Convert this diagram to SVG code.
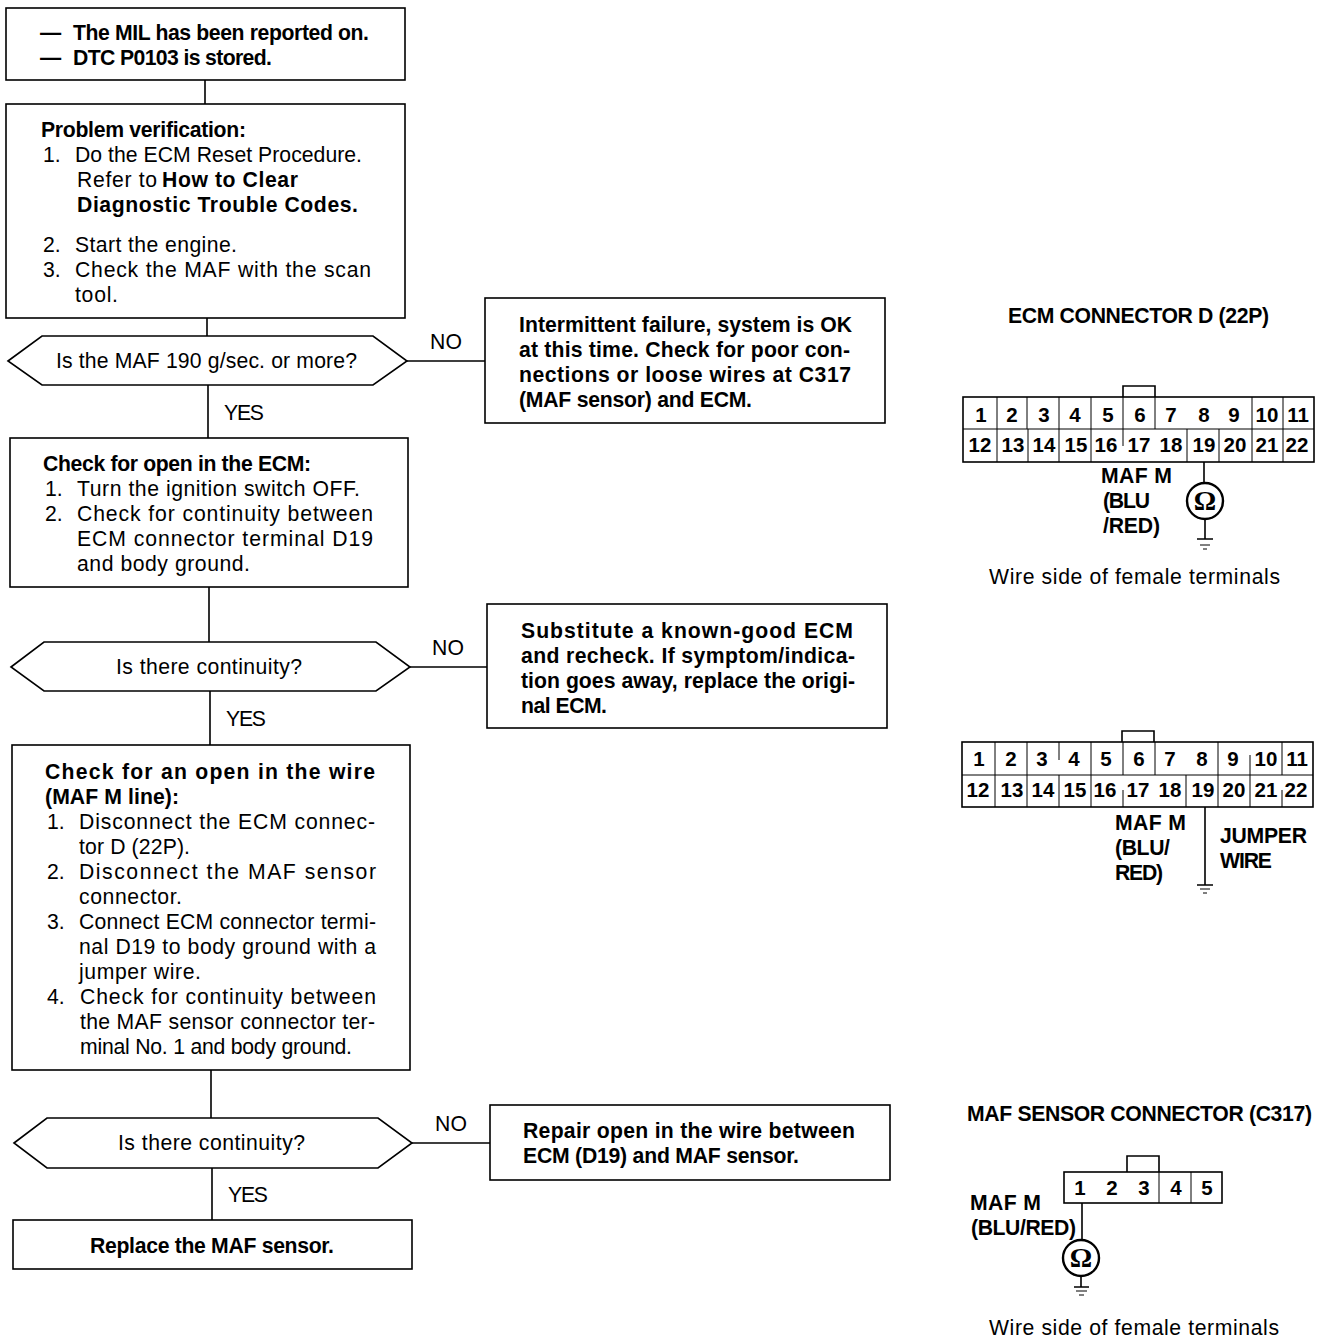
<svg xmlns="http://www.w3.org/2000/svg" width="1328" height="1344" viewBox="0 0 1328 1344">
<style>
text{font-family:"Liberation Sans",Arial,sans-serif;font-size:21.2px;fill:#000;transform:translateY(-0.7px)}
.b{font-weight:700}
.n{font-weight:700;text-anchor:middle;font-size:20.5px}
.s{fill:#fff;stroke:#000;stroke-width:1.6}
.l{fill:none;stroke:#000;stroke-width:1.6}
.d{fill:none;stroke:#000;stroke-width:1}
.o{fill:#fff;stroke:#000;stroke-width:2.4}
.om{font-family:"Liberation Serif",serif;font-weight:700;font-size:28px;text-anchor:middle}
</style>
<rect width="1328" height="1344" fill="#fff"/>
<g id="connectors" class="l">
<path d="M205 80V104M207 318V336M208 385V438M209 587V642M210 691V745M211 1070V1118M212 1168V1220M407 361H485M410 667H487M412 1143H490"/>
</g>
<g id="n-start"><rect class="s" x="6" y="8" width="399" height="72"/>
<text class="b" x="40" y="41" textLength="20">—</text><text class="b" x="73" y="41" textLength="296">The MIL has been reported on.</text>
<text class="b" x="40" y="66" textLength="20">—</text><text class="b" x="73" y="66" textLength="199">DTC P0103 is stored.</text></g>
<g id="n-verify"><rect class="s" x="6" y="104" width="399" height="214"/>
<text class="b" x="41" y="138" textLength="205">Problem verification:</text>
<text x="43" y="163">1.</text><text x="75" y="163" textLength="287">Do the ECM Reset Procedure.</text>
<text x="77" y="188" textLength="80">Refer to</text><text class="b" x="162" y="188" textLength="136">How to Clear</text>
<text class="b" x="77" y="213" textLength="281">Diagnostic Trouble Codes.</text>
<text x="43" y="253">2.</text><text x="75" y="253" textLength="162">Start the engine.</text>
<text x="43" y="278">3.</text><text x="75" y="278" textLength="296">Check the MAF with the scan</text>
<text x="75" y="303" textLength="43">tool.</text></g>
<g id="n-q1"><polygon class="s" points="8,361 42,336 373,336 407,361 373,385 42,385"/>
<text x="56" y="369" textLength="301">Is the MAF 190 g/sec. or more?</text>
<text x="430" y="350" textLength="32">NO</text><text x="224" y="421" textLength="40">YES</text></g>
<g id="n-intermittent"><rect class="s" x="485" y="298" width="400" height="125"/>
<text class="b" x="519" y="333" textLength="333">Intermittent failure, system is OK</text>
<text class="b" x="519" y="358" textLength="331">at this time. Check for poor con-</text>
<text class="b" x="519" y="383" textLength="332">nections or loose wires at C317</text>
<text class="b" x="519" y="408" textLength="233">(MAF sensor) and ECM.</text></g>
<g id="n-ecm-open"><rect class="s" x="10" y="438" width="398" height="149"/>
<text class="b" x="43" y="472" textLength="268">Check for open in the ECM:</text>
<text x="45" y="497">1.</text><text x="77" y="497" textLength="283">Turn the ignition switch OFF.</text>
<text x="45" y="522">2.</text><text x="77" y="522" textLength="296">Check for continuity between</text>
<text x="77" y="547" textLength="296">ECM connector terminal D19</text>
<text x="77" y="572" textLength="173">and body ground.</text></g>
<g id="n-q2"><polygon class="s" points="11,667 44,642 376,642 410,667 376,691 44,691"/>
<text x="116" y="675" textLength="186">Is there continuity?</text>
<text x="432" y="656" textLength="32">NO</text><text x="226" y="727" textLength="40">YES</text></g>
<g id="n-substitute"><rect class="s" x="487" y="604" width="400" height="124"/>
<text class="b" x="521" y="639" textLength="332">Substitute a known-good ECM</text>
<text class="b" x="521" y="664" textLength="334">and recheck. If symptom/indica-</text>
<text class="b" x="521" y="689" textLength="334">tion goes away, replace the origi-</text>
<text class="b" x="521" y="714" textLength="86">nal ECM.</text></g>
<g id="n-wire-open"><rect class="s" x="12" y="745" width="398" height="325"/>
<text class="b" x="45" y="780" textLength="330">Check for an open in the wire</text>
<text class="b" x="45" y="805" textLength="134">(MAF M line):</text>
<text x="47" y="830">1.</text><text x="79" y="830" textLength="296">Disconnect the ECM connec-</text>
<text x="79" y="855" textLength="111">tor D (22P).</text>
<text x="47" y="880">2.</text><text x="79" y="880" textLength="297">Disconnect the MAF sensor</text>
<text x="79" y="905" textLength="103">connector.</text>
<text x="47" y="930">3.</text><text x="79" y="930" textLength="297">Connect ECM connector termi-</text>
<text x="79" y="955" textLength="297">nal D19 to body ground with a</text>
<text x="79" y="980" textLength="122">jumper wire.</text>
<text x="47" y="1005">4.</text><text x="80" y="1005" textLength="296">Check for continuity between</text>
<text x="80" y="1030" textLength="295">the MAF sensor connector ter-</text>
<text x="80" y="1055" textLength="272">minal No. 1 and body ground.</text></g>
<g id="n-q3"><polygon class="s" points="14,1143 47,1118 378,1118 412,1143 378,1168 47,1168"/>
<text x="118" y="1151" textLength="187">Is there continuity?</text>
<text x="435" y="1132" textLength="32">NO</text><text x="228" y="1203" textLength="40">YES</text></g>
<g id="n-repair"><rect class="s" x="490" y="1105" width="400" height="75"/>
<text class="b" x="523" y="1139" textLength="332">Repair open in the wire between</text>
<text class="b" x="523" y="1164" textLength="276">ECM (D19) and MAF sensor.</text></g>
<g id="n-replace"><rect class="s" x="13" y="1220" width="399" height="49"/>
<text class="b" x="90" y="1254" textLength="244">Replace the MAF sensor.</text></g>
<g id="ecm-connector-1">
<text class="b" x="1008" y="324" textLength="261">ECM CONNECTOR D (22P)</text>
<path class="l" d="M1123 397V386H1155V397"/>
<rect class="l" x="963" y="397" width="351" height="65"/>
<path class="d" d="M963 429H1314M997 397V429M1027 397V429M1059 397V429M1091 397V429M1123 397V429M1155 397V429M1252 397V429M1283 397V429M997 429V462M1028 429V462M1059 429V462M1091 429V462M1123 429V446M1187 429V462M1219 429V462M1252 429V462M1283 429V462"/>
<text class="n" x="981" y="423">1</text><text class="n" x="1012" y="423">2</text><text class="n" x="1044" y="423">3</text><text class="n" x="1075" y="423">4</text><text class="n" x="1108" y="423">5</text><text class="n" x="1140" y="423">6</text><text class="n" x="1171" y="423">7</text><text class="n" x="1204" y="423">8</text><text class="n" x="1234" y="423">9</text><text class="n" x="1267" y="423">10</text><text class="n" x="1298" y="423">11</text>
<text class="n" x="980" y="453">12</text><text class="n" x="1013" y="453">13</text><text class="n" x="1044" y="453">14</text><text class="n" x="1076" y="453">15</text><text class="n" x="1106" y="453">16</text><text class="n" x="1139" y="453">17</text><text class="n" x="1171" y="453">18</text><text class="n" x="1204" y="453">19</text><text class="n" x="1235" y="453">20</text><text class="n" x="1267" y="453">21</text><text class="n" x="1297" y="453">22</text>
<path class="l" d="M1204 462V483M1205 519V539M1197 539H1213"/><path class="d" d="M1200 545H1210M1203 549H1207"/>
<circle class="o" cx="1205" cy="501" r="18"/><text class="om" x="1205" y="511">Ω</text>
<text class="b" x="1101" y="484" textLength="71">MAF M</text><text class="b" x="1103" y="509" textLength="47">(BLU</text><text class="b" x="1103" y="534" textLength="57">/RED)</text>
<text x="989" y="585" textLength="291">Wire side of female terminals</text></g>
<g id="ecm-connector-2">
<path class="l" d="M1122 742V731H1154V742"/>
<rect class="l" x="962" y="742" width="351" height="65"/>
<path class="d" d="M962 775H1313M995 742V775M1027 742V775M1059 742V760M1091 742V775M1123 742V775M1155 742V775M1218 742V775M1250 755V775M1282 742V775M995 775V807M1027 775V807M1059 775V807M1091 775V807M1123 790V807M1186 775V807M1218 775V807M1250 775V807M1282 790V807"/>
<text class="n" x="979" y="767">1</text><text class="n" x="1011" y="767">2</text><text class="n" x="1042" y="767">3</text><text class="n" x="1074" y="767">4</text><text class="n" x="1106" y="767">5</text><text class="n" x="1139" y="767">6</text><text class="n" x="1170" y="767">7</text><text class="n" x="1202" y="767">8</text><text class="n" x="1233" y="767">9</text><text class="n" x="1266" y="767">10</text><text class="n" x="1297" y="767">11</text>
<text class="n" x="978" y="798">12</text><text class="n" x="1012" y="798">13</text><text class="n" x="1043" y="798">14</text><text class="n" x="1075" y="798">15</text><text class="n" x="1105" y="798">16</text><text class="n" x="1138" y="798">17</text><text class="n" x="1170" y="798">18</text><text class="n" x="1203" y="798">19</text><text class="n" x="1234" y="798">20</text><text class="n" x="1266" y="798">21</text><text class="n" x="1296" y="798">22</text>
<path class="l" d="M1205 807V885M1197 885H1213"/><path class="d" d="M1200 889H1210M1203 893H1207"/>
<text class="b" x="1115" y="831" textLength="71">MAF M</text><text class="b" x="1115" y="856" textLength="55">(BLU/</text><text class="b" x="1115" y="881" textLength="48">RED)</text>
<text class="b" x="1220" y="844" textLength="87">JUMPER</text><text class="b" x="1220" y="869" textLength="52">WIRE</text></g>
<g id="maf-connector">
<text class="b" x="967" y="1122" textLength="345">MAF SENSOR CONNECTOR (C317)</text>
<path class="l" d="M1127 1172V1156H1159V1172"/>
<rect class="l" x="1064" y="1172" width="158" height="31"/>
<path class="d" d="M1159 1172V1203M1191 1172V1203"/>
<text class="n" x="1080" y="1196">1</text><text class="n" x="1112" y="1196">2</text><text class="n" x="1144" y="1196">3</text><text class="n" x="1176" y="1196">4</text><text class="n" x="1207" y="1196">5</text>
<path class="l" d="M1082 1203V1240M1081 1276V1287M1074 1287H1089"/><path class="d" d="M1076 1291H1087M1079 1295H1084"/>
<circle class="o" cx="1081" cy="1258" r="18"/><text class="om" x="1081" y="1268">Ω</text>
<text class="b" x="970" y="1211" textLength="71">MAF M</text><text class="b" x="971" y="1236" textLength="105">(BLU/RED)</text>
<text x="989" y="1336" textLength="290">Wire side of female terminals</text></g>
</svg>
